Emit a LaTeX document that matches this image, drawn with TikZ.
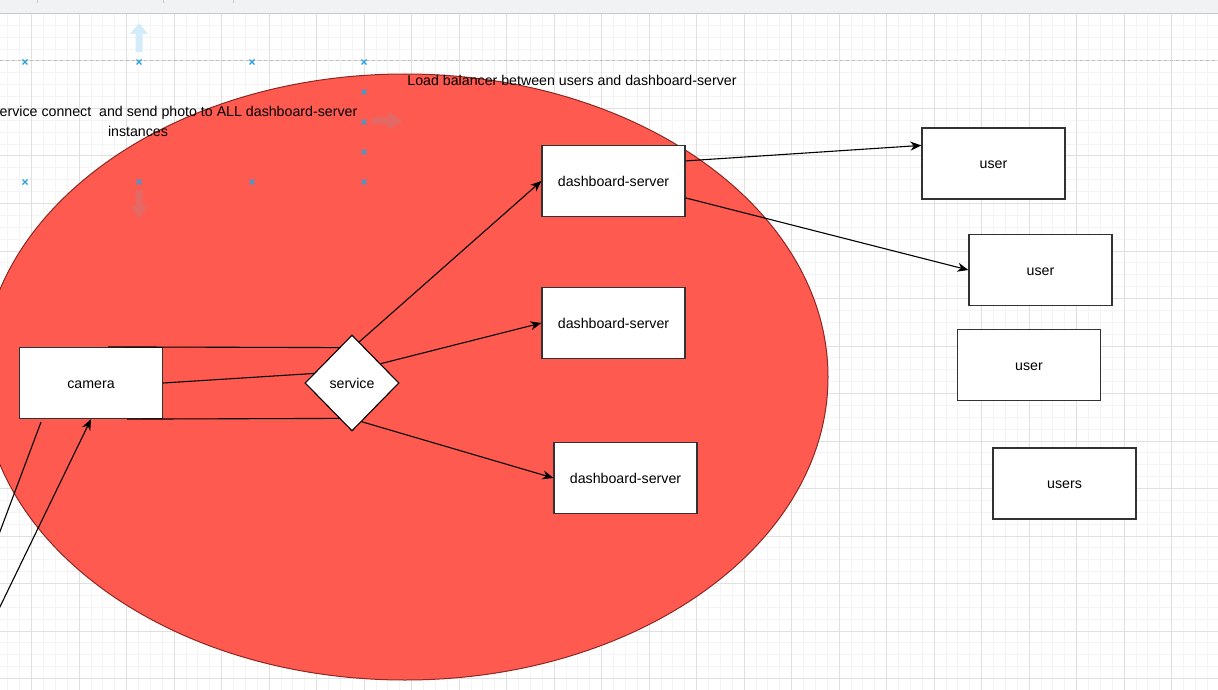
\documentclass[tikz,border=0pt]{standalone}
\usepackage{fontspec}
\setmainfont{Liberation Sans}
\usetikzlibrary{shapes.geometric,arrows.meta}

\definecolor{gridmajor}{RGB}{224,224,224}
\definecolor{gridminor}{RGB}{244,244,244}
\definecolor{zonefill}{RGB}{255,90,80}
\definecolor{zoneline}{RGB}{140,40,36}
\definecolor{boxline}{RGB}{50,50,50}
\definecolor{barfill}{RGB}{241,242,244}
\definecolor{barline}{RGB}{200,202,206}
\definecolor{guide}{RGB}{190,190,190}
\definecolor{handle}{RGB}{41,160,226}
\definecolor{hintblue}{RGB}{212,236,250}
\definecolor{hintred}{RGB}{228,104,100}

\newcommand\lbl{\fontsize{14.2}{17}\selectfont}

\tikzset{
  box/.style={draw=boxline, line width=1.2pt, fill=white, minimum width=143pt,
    minimum height=71pt, inner sep=0pt, font=\lbl,
    text height=10pt, text depth=0pt},
  decision/.style={shape=diamond, draw=black, line width=1.1pt, fill=white,
    minimum width=94pt, minimum height=96pt, inner sep=0pt, font=\lbl,
    text height=10pt, text depth=0pt},
  caption/.style={inner sep=0pt, font=\lbl},
  link/.style={draw=black, line width=1.1pt,
    -{Stealth[length=11pt,width=9pt,inset=3.5pt]}},
  plain/.style={draw=black, line width=1.1pt},
  zone/.style={draw=zoneline, line width=1pt, fill=zonefill},
  minorline/.style={draw=gridminor, line width=1pt},
  majorline/.style={draw=gridmajor, line width=1pt},
  cross/.style={draw=handle, line width=1.2pt},
}

\begin{document}
\begin{tikzpicture}[x=1pt,y=-1pt]
  \useasboundingbox (0,0) rectangle (1218,690);
  \clip (0,0) rectangle (1218,690);
  \fill[white] (0,0) rectangle (1218,690);

  % background grid
  \foreach \i in {0,...,104}
    \draw[minorline] ({-15.8+11.875*\i},14) -- ({-15.8+11.875*\i},690);
  \foreach \i in {0,...,58}
    \draw[minorline] (0,{13.5+11.875*\i}) -- (1218,{13.5+11.875*\i});
  \foreach \i in {0,...,26}
    \draw[majorline] ({-15.8+47.5*\i},14) -- ({-15.8+47.5*\i},690);
  \foreach \i in {0,...,14}
    \draw[majorline] (0,{13.5+47.5*\i}) -- (1218,{13.5+47.5*\i});

  % toolbar strip
  \fill[barfill] (0,0) rectangle (1218,14);
  \draw[barline, line width=1pt] (0,14) -- (1218,14);
  \foreach \x in {37,163,233}
    \draw[barline, line width=0.8pt] (\x,0) -- (\x,3);

  % dashed guide
  \draw[guide, line width=1pt, dash pattern=on 3pt off 3pt] (0,61) -- (1218,61);

  % red zone
  \draw[zone] (405,377) ellipse [x radius=423pt, y radius=303pt];

  % captions
  \node[caption] (lbnote) at (572,80)
    {Load balancer between users and dashboard-server};
  \node[caption, anchor=east] (svcnote) at (357.5,113)
    {Service connect\ \ and send photo to ALL dashboard-server};
  \node[caption] (svcnote2) at (138,131) {instances};

  % hover hints
  \fill[hintblue] (139,23) -- (148,34) -- (142.5,34) -- (142.5,52)
    -- (135.5,52) -- (135.5,34) -- (130,34) -- cycle;
  \fill[hintred] (403,121) -- (388,112) -- (388,117.5) -- (372,117.5)
    -- (372,124.5) -- (388,124.5) -- (388,130) -- cycle;
  \fill[hintred] (139,218) -- (148,206) -- (142.5,206) -- (142.5,190)
    -- (135.5,190) -- (135.5,206) -- (130,206) -- cycle;

  % connection handles
  \foreach \px/\py in {25/62,139/62,252/62,364/62,25/182,139/182,252/182,
                       364/182,364/92,364/122,364/152}
    \draw[cross] (\px-2.5,\py-2.5) -- (\px+2.5,\py+2.5)
                 (\px-2.5,\py+2.5) -- (\px+2.5,\py-2.5);

  % nodes
  \node[box] (camera) at (91,383) {camera};
  \node[decision] (svc) at (352,383) {service};
  \node[box] (ds1) at (613.5,181) {dashboard-server};
  \node[box] (ds2) at (613.5,323) {dashboard-server};
  \node[box] (ds3) at (625.5,478) {dashboard-server};
  \node[box] (u1) at (993.5,163.5) {user};
  \node[box] (u2) at (1040.5,270) {user};
  \node[box] (u3) at (1029,365) {user};
  \node[box] (u4) at (1064.5,483.5) {users};

  % camera to service
  \draw[plain] ([xshift=17pt]camera.north) -- (svc.110.4);
  \draw[plain] (camera.east) -- (svc.166);
  \draw[plain] ([xshift=36pt]camera.south) -- (svc.-110.4);

  % lines entering from the left
  \coordinate (offA) at (-21,587.5);
  \coordinate (offB) at (-20,648);
  \draw[plain] ([xshift=-50pt,yshift=-3pt]camera.south) -- (offA);
  \draw[link] (offB) -- (camera.south);

  % service to dashboard servers
  \draw[link] (svc.80) -- (ds1.west);
  \draw[link] (svc.34) -- (ds2.west);
  \draw[link] (svc.-76) -- (ds3.west);

  % dashboard server to users
  \draw[link] ([yshift=-16pt]ds1.north east) -- ([yshift=-18pt]u1.north west);
  \draw[link] ([yshift=-53pt]ds1.north east) -- (u2.west);
\end{tikzpicture}
\end{document}
